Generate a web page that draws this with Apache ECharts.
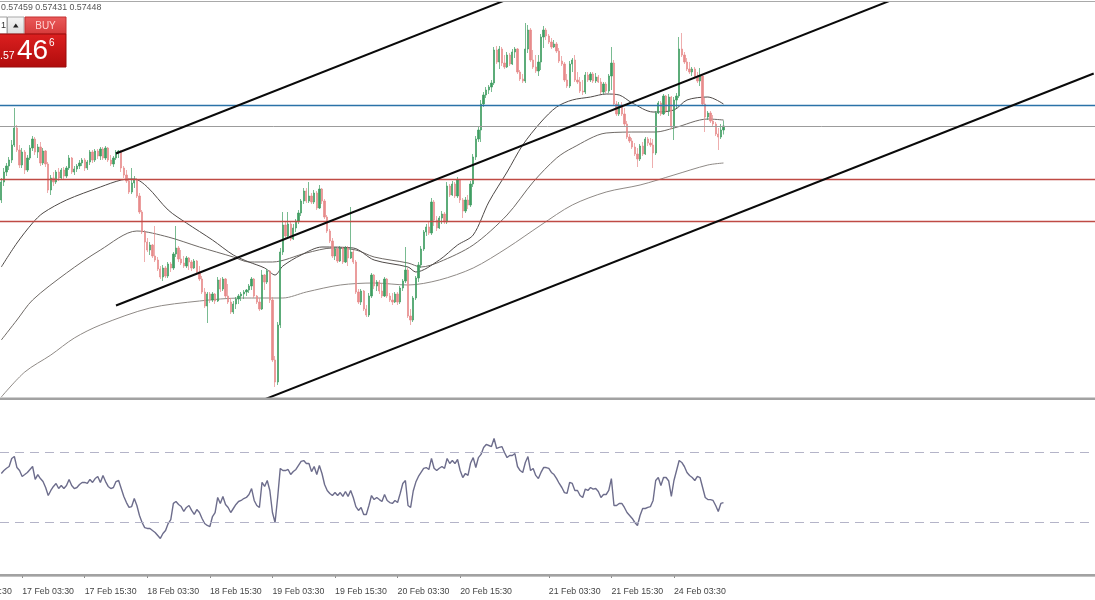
<!DOCTYPE html>
<html><head><meta charset="utf-8">
<script src="https://cdn.jsdelivr.net/npm/echarts@6/dist/echarts.min.js"></script>
<style>html,body{margin:0;padding:0;background:#fff}#c{width:1095px;height:600px}</style>
</head><body><div id="c"></div>
<script>
// ---- time axis (M30 bars); bar numbers count from the 16 Feb 15:30 bar ----
const firstBar = 16;          // first bar visible at the left edge
const lastBar = 435;          // last slot at the right edge
const tickIndex = [0, 24, 48, 72, 96, 120, 144, 168, 192, 226, 250, 274];
const tickText = ['16 Feb 15:30','17 Feb 03:30','17 Feb 15:30','18 Feb 03:30','18 Feb 15:30','19 Feb 03:30','19 Feb 15:30','20 Feb 03:30','20 Feb 15:30','21 Feb 03:30','21 Feb 15:30','24 Feb 03:30'];

// ---- price bars, starting at bar firstBar ----
const opens = [0.573,0.57336,0.57356,0.57368,0.5738,0.5741,0.57444,0.574,0.5737,0.57396,
0.5736,0.57384,0.57404,0.57422,0.57396,0.57406,0.57374,0.57398,0.57372,0.5732,
0.57344,0.57336,0.57356,0.57344,0.5736,0.57348,0.57364,0.57384,0.57356,0.57362,
0.57368,0.57374,0.5738,0.57364,0.57376,0.57396,0.5738,0.57398,0.57388,0.57402,
0.57384,0.57404,0.5738,0.57372,0.57384,0.57396,0.57398,0.57364,0.5735,0.57338,
0.57316,0.57334,0.5734,0.57308,0.57276,0.57236,0.57216,0.572,0.5721,0.57188,
0.5718,0.57162,0.57146,0.57164,0.57148,0.57172,0.57164,0.57192,0.57204,0.57182,
0.57174,0.57168,0.57184,0.57176,0.57164,0.57178,0.57156,0.57142,0.57116,0.57088,
0.57112,0.571,0.57112,0.57098,0.5714,0.57122,0.57142,0.57108,0.57096,0.57076,
0.57092,0.57102,0.57108,0.57112,0.57116,0.5712,0.57128,0.57142,0.57108,0.57096,
0.57082,0.5715,0.57136,0.57158,0.571,0.5698,0.56936,0.5705,0.57196,0.5725,
0.57228,0.57252,0.57222,0.57244,0.57258,0.57274,0.57298,0.57318,0.57298,0.57308,
0.57296,0.57314,0.57284,0.57322,0.57298,0.57266,0.57238,0.57218,0.57188,0.57202,
0.57178,0.57204,0.57176,0.57204,0.57184,0.57196,0.57176,0.57116,0.57096,0.57118,
0.57082,0.5707,0.57108,0.5715,0.57128,0.57136,0.57118,0.57108,0.57142,0.57108,
0.571,0.57096,0.57112,0.57096,0.57124,0.57138,0.5716,0.57068,0.5706,0.57104,
0.57144,0.5717,0.57202,0.57236,0.57246,0.57234,0.57296,0.5726,0.57244,0.57264,
0.57272,0.57256,0.57328,0.5731,0.57332,0.57308,0.5734,0.573,0.57278,0.573,
0.5729,0.57332,0.57386,0.57422,0.5744,0.57492,0.5751,0.5752,0.57526,0.57534,
0.576,0.57576,0.57602,0.57574,0.57566,0.5759,0.57572,0.57596,0.57602,0.57556,
0.57542,0.57538,0.57602,0.5764,0.5758,0.57566,0.57558,0.57576,0.57626,0.5764,
0.57628,0.57616,0.57606,0.57612,0.57598,0.57578,0.57572,0.5754,0.57528,0.57572,
0.5758,0.5754,0.57536,0.57518,0.57516,0.5755,0.5754,0.57552,0.57538,0.57546,
0.57536,0.57516,0.57532,0.57518,0.57548,0.57574,0.57492,0.57472,0.5749,0.57472,
0.57452,0.57426,0.57418,0.57406,0.57392,0.57382,0.57408,0.57392,0.57422,0.57414,
0.5741,0.57394,0.57474,0.57494,0.57472,0.57508,0.57478,0.57506,0.57446,0.575,
0.57508,0.57602,0.5759,0.57576,0.57562,0.57556,0.57562,0.57546,0.57538,0.57548,
0.57492,0.57466,0.57474,0.57458,0.57452,0.57432,0.57426,0.5744];
const closes = [0.57336,0.57356,0.57368,0.5738,0.5741,0.57444,0.574,0.5737,0.57396,0.5736,
0.57384,0.57404,0.57422,0.57396,0.57406,0.57374,0.57398,0.57372,0.5732,0.57344,
0.57336,0.57356,0.57344,0.5736,0.57348,0.57364,0.57384,0.57356,0.57362,0.57368,
0.57374,0.5738,0.57364,0.57376,0.57396,0.5738,0.57398,0.57388,0.57402,0.57384,
0.57404,0.5738,0.57372,0.57384,0.57396,0.57398,0.57364,0.5735,0.57338,0.57316,
0.57334,0.5734,0.57308,0.57276,0.57236,0.57216,0.572,0.5721,0.57188,0.5718,
0.57162,0.57146,0.57164,0.57148,0.57172,0.57164,0.57192,0.57204,0.57182,0.57174,
0.57168,0.57184,0.57176,0.57164,0.57178,0.57156,0.57142,0.57116,0.57088,0.57112,
0.571,0.57112,0.57098,0.5714,0.57122,0.57142,0.57108,0.57096,0.57076,0.57092,
0.57102,0.57108,0.57112,0.57116,0.5712,0.57128,0.57142,0.57108,0.57096,0.57082,
0.5715,0.57136,0.57158,0.571,0.5698,0.56936,0.5705,0.57196,0.5725,0.57228,
0.57252,0.57222,0.57244,0.57258,0.57274,0.57298,0.57318,0.57298,0.57308,0.57296,
0.57314,0.57284,0.57322,0.57298,0.57266,0.57238,0.57218,0.57188,0.57202,0.57178,
0.57204,0.57176,0.57204,0.57184,0.57196,0.57176,0.57116,0.57096,0.57118,0.57082,
0.5707,0.57108,0.5715,0.57128,0.57136,0.57118,0.57108,0.57142,0.57108,0.571,
0.57096,0.57112,0.57096,0.57124,0.57138,0.5716,0.57068,0.5706,0.57104,0.57144,
0.5717,0.57202,0.57236,0.57246,0.57234,0.57296,0.5726,0.57244,0.57264,0.57272,
0.57256,0.57328,0.5731,0.57332,0.57308,0.5734,0.573,0.57278,0.573,0.5729,
0.57332,0.57386,0.57422,0.5744,0.57492,0.5751,0.5752,0.57526,0.57534,0.576,
0.57576,0.57602,0.57574,0.57566,0.5759,0.57572,0.57596,0.57602,0.57556,0.57542,
0.57538,0.57602,0.5764,0.5758,0.57566,0.57558,0.57576,0.57626,0.5764,0.57628,
0.57616,0.57606,0.57612,0.57598,0.57578,0.57572,0.5754,0.57528,0.57572,0.5758,
0.5754,0.57536,0.57518,0.57516,0.5755,0.5754,0.57552,0.57538,0.57546,0.57536,
0.57516,0.57532,0.57518,0.57548,0.57574,0.57492,0.57472,0.5749,0.57472,0.57452,
0.57426,0.57418,0.57406,0.57392,0.57382,0.57408,0.57392,0.57422,0.57414,0.5741,
0.57394,0.57474,0.57494,0.57472,0.57508,0.57478,0.57506,0.57446,0.575,0.57508,
0.57602,0.5759,0.57576,0.57562,0.57556,0.57562,0.57546,0.57538,0.57548,0.57492,
0.57466,0.57474,0.57458,0.57452,0.57432,0.57426,0.5744,0.57448];
const highs = [0.57344,0.57364,0.57374,0.57386,0.5742,0.57484,0.5745,0.5741,0.57404,0.574,
0.5739,0.5741,0.57428,0.57426,0.57412,0.57416,0.57404,0.574,0.57376,0.5735,
0.57356,0.5736,0.57364,0.57364,0.57366,0.57368,0.5739,0.57386,0.57368,0.57372,
0.5738,0.57384,0.57384,0.5738,0.574,0.574,0.57402,0.57402,0.57406,0.57406,
0.57408,0.57406,0.5739,0.57388,0.574,0.574,0.574,0.57368,0.5736,0.57344,
0.57364,0.57348,0.57344,0.57314,0.5728,0.5724,0.57224,0.57216,0.57212,0.57248,
0.57186,0.57168,0.5717,0.57168,0.57176,0.57176,0.57196,0.57248,0.57208,0.572,
0.57188,0.57188,0.57186,0.5718,0.57182,0.5718,0.57168,0.57148,0.57124,0.57116,
0.57116,0.57116,0.57114,0.57146,0.57144,0.57146,0.57144,0.57132,0.57104,0.57098,
0.57106,0.57112,0.57116,0.5712,0.57122,0.57132,0.57146,0.57144,0.5711,0.57104,
0.5716,0.57152,0.57162,0.5716,0.57106,0.56988,0.57056,0.57204,0.57276,0.57256,
0.57276,0.57256,0.57252,0.57262,0.5728,0.57302,0.57324,0.57324,0.57336,0.57314,
0.5732,0.57318,0.5733,0.57324,0.57302,0.5727,0.57242,0.57224,0.57206,0.57206,
0.57208,0.57206,0.57208,0.57208,0.57286,0.572,0.5718,0.57122,0.57122,0.5712,
0.5709,0.57114,0.57154,0.57152,0.5714,0.5714,0.57134,0.57146,0.57144,0.57114,
0.57114,0.57116,0.57116,0.57128,0.57142,0.57206,0.57164,0.57082,0.57108,0.57148,
0.57176,0.57208,0.5724,0.57252,0.57256,0.57304,0.573,0.57268,0.57268,0.57278,
0.57276,0.57336,0.57332,0.57338,0.57336,0.57346,0.57342,0.57304,0.57306,0.5731,
0.57338,0.57392,0.57428,0.57446,0.575,0.57516,0.57526,0.5753,0.5754,0.57606,
0.57608,0.57608,0.57606,0.5759,0.57596,0.57594,0.57602,0.57606,0.57604,0.5756,
0.57552,0.57654,0.5765,0.57644,0.576,0.5759,0.5759,0.57632,0.57648,0.57644,
0.57632,0.57624,0.5762,0.57616,0.57604,0.57588,0.57576,0.57552,0.57578,0.57584,
0.5759,0.57556,0.57546,0.5754,0.57556,0.57556,0.57556,0.57556,0.57554,0.5755,
0.57544,0.57536,0.57536,0.57552,0.57606,0.5758,0.57498,0.57496,0.57496,0.57484,
0.57458,0.57432,0.57424,0.57414,0.57404,0.57412,0.57416,0.57426,0.57426,0.57424,
0.57422,0.57478,0.57498,0.57498,0.57512,0.5751,0.57512,0.57508,0.57506,0.57514,
0.57626,0.57634,0.57596,0.57584,0.57576,0.57566,0.57566,0.57556,0.57564,0.5755,
0.57504,0.57478,0.57478,0.5747,0.57456,0.57444,0.57452,0.57459];
const lows = [0.57294,0.57328,0.57348,0.5736,0.57374,0.57406,0.57396,0.57364,0.57364,0.57352,
0.57356,0.5738,0.57398,0.5739,0.57384,0.57368,0.5737,0.57366,0.57314,0.5731,
0.57328,0.57332,0.57338,0.5734,0.57342,0.57344,0.5736,0.57352,0.5735,0.57356,
0.57362,0.57368,0.57358,0.5736,0.5737,0.57374,0.57376,0.57382,0.5738,0.5738,
0.5738,0.57376,0.57368,0.57366,0.5738,0.57384,0.57356,0.57344,0.57334,0.57312,
0.57312,0.57324,0.57304,0.57272,0.57232,0.57176,0.57196,0.5719,0.57184,0.57176,
0.57158,0.57142,0.57138,0.57144,0.57144,0.57156,0.5716,0.57186,0.57176,0.5717,
0.57164,0.57164,0.5716,0.57158,0.57162,0.57152,0.57138,0.57112,0.57084,0.57054,
0.57094,0.57096,0.57092,0.57096,0.57116,0.57118,0.57104,0.57092,0.57072,0.57072,
0.57082,0.57092,0.57098,0.57102,0.57108,0.57114,0.5712,0.57104,0.57092,0.57078,
0.5708,0.5712,0.57132,0.57094,0.56976,0.56926,0.5693,0.57044,0.5719,0.57222,
0.57224,0.57218,0.5722,0.57236,0.57252,0.57268,0.57292,0.57294,0.57294,0.57292,
0.57292,0.5728,0.57282,0.57292,0.57262,0.57234,0.57214,0.57184,0.5718,0.57174,
0.57176,0.57172,0.57174,0.57168,0.57182,0.57172,0.57112,0.57092,0.5709,0.57078,
0.57066,0.57066,0.57104,0.57122,0.57118,0.57112,0.57104,0.57106,0.57104,0.57096,
0.5709,0.57094,0.5709,0.57092,0.57118,0.57134,0.57064,0.5705,0.57056,0.571,
0.57136,0.57164,0.57198,0.57228,0.5723,0.5723,0.57248,0.57238,0.57242,0.57252,
0.57252,0.57252,0.57306,0.57308,0.57304,0.57304,0.57294,0.57264,0.57274,0.57282,
0.57286,0.57326,0.5738,0.57416,0.57416,0.57486,0.57504,0.57512,0.57516,0.5753,
0.57572,0.57562,0.57568,0.57562,0.57564,0.57568,0.5757,0.57584,0.57552,0.57538,
0.57534,0.57534,0.57594,0.57576,0.57562,0.57554,0.57548,0.5756,0.57604,0.5762,
0.57612,0.57602,0.57604,0.57594,0.57574,0.57568,0.57536,0.57524,0.57524,0.57556,
0.57536,0.57532,0.57514,0.5751,0.57512,0.57536,0.57536,0.57534,0.57534,0.57534,
0.57512,0.57512,0.57514,0.57514,0.5752,0.57488,0.57468,0.57468,0.57468,0.57448,
0.57422,0.57414,0.57402,0.57388,0.57366,0.57378,0.57388,0.5739,0.57408,0.57406,
0.57364,0.5739,0.57472,0.57468,0.5747,0.57474,0.57468,0.57442,0.5742,0.57484,
0.57504,0.57586,0.57572,0.57558,0.57552,0.57548,0.57542,0.57534,0.57528,0.57488,
0.57436,0.5746,0.57454,0.57446,0.57428,0.574,0.57422,0.57431];

// ---- moving averages, [bar number, price] ----
const maFast = [[16,0.57166],[22,0.57214],[28,0.57254],[32,0.57274],[41,0.573],[54,0.57326],[62,0.5734],[67,0.57342],[72,0.57326],[80,0.5728],[87,0.57254],[97,0.5722],[105,0.5719],[111,0.57176],[117,0.57164],[121,0.5715],[124,0.57168],[131,0.5719],[139,0.57206],[151,0.57204],[159,0.5718],[172,0.57166],[175,0.57156],[184,0.5718],[191,0.5721],[197,0.5723],[203,0.57296],[210,0.57356],[216,0.5741],[223,0.57456],[229,0.57486],[235,0.575],[242,0.57506],[248,0.57512],[253,0.5751],[258,0.57494],[266,0.57476],[274,0.5748],[279,0.575],[287,0.57506],[293,0.57492]];
const maMid = [[16,0.5702],[22,0.5706],[28,0.571],[41,0.57154],[54,0.572],[68,0.57238],[80,0.57226],[92,0.57206],[105,0.57186],[111,0.57176],[120,0.57176],[133,0.57194],[143,0.57204],[152,0.572],[159,0.57186],[172,0.57174],[177,0.57166],[184,0.57176],[197,0.5721],[210,0.5727],[220,0.57336],[229,0.57384],[235,0.57404],[248,0.57434],[261,0.57436],[267,0.57436],[274,0.57444],[287,0.57462],[293,0.5746]];
const maSlow = [[16,0.56906],[25,0.56956],[35,0.5699],[44,0.57024],[54,0.5705],[73,0.57084],[92,0.57098],[108,0.57104],[124,0.57104],[133,0.57116],[146,0.5713],[159,0.57134],[172,0.5713],[184,0.5714],[197,0.57164],[210,0.57204],[223,0.5725],[235,0.5729],[248,0.57316],[261,0.5733],[274,0.5735],[287,0.5737],[293,0.57374]];

// ---- drawn objects, [bar number, price] ----
const trendUpper = [[60,0.57393],[210,0.57701]];
const trendMiddle = [[60,0.57089],[360,0.57705]];
const trendLower = [[110,0.56887],[435,0.57553]];
const levelBlue = 0.5749;
const levelBid = 0.57448;
const levelRed = [0.57342, 0.57258];
const priceMin = 0.56904, priceMax = 0.57694;

// ---- RSI, starting at bar firstBar ----
const rsi = [58,59.7,61,62,66.6,67.7,61.4,59.7,56.3,57.4,
58.6,60.3,62,54.6,57.4,55.1,53.4,50,45.4,48.3,
50.6,52.3,49.4,51.1,49.4,51.1,54.6,51.1,49.4,50,
51.7,52.9,52.9,52.3,54.6,52.9,55.1,56.3,52.9,56.9,
53.4,50.6,49.4,50,53.4,54,49.4,44.9,41.4,38.6,
39.1,43.7,39.7,34,30,27.1,26.6,26.6,25.4,24.3,
22.6,20.9,23.7,25.4,29.4,31.7,40.9,42,40.3,39.1,
36.3,38.6,39.7,36.9,34.6,37.4,35.7,32.3,29.4,28.3,
27.7,33.4,35.7,44.3,40.9,44.9,40.3,38.6,35.7,38,
40.3,42,42.6,43.7,44.3,46,49.4,42.6,39.7,38.6,
52.9,50.6,54,48.3,35.7,30,44.3,60.9,59.7,59.7,
60.3,57.4,59.1,60.3,62.6,64.9,65.4,63.7,63.7,59.1,
62,57.4,62.6,58,51.7,48.3,46.6,45.4,47.1,45.4,
47.1,44.9,47.7,44.9,48.3,44.3,39.1,36.9,38.6,34.6,
34.6,39.7,45.4,43.1,44.3,43.1,42,46,42.6,41.4,
40.9,42.6,41.4,46.6,52.3,54,39.7,38.6,48,53.1,
56.3,58.6,60.9,61.4,60.3,66.6,61,59.7,61,62,
60.9,66.6,63.7,65.4,63.7,66,59.7,55.7,58,56.9,
64,67.1,61.4,67.1,68.9,72.9,74.6,74,73.4,78,
72.3,72.9,73.4,70,67.1,68.3,68.3,69.4,62,59.7,
58.6,64.3,67.7,59.7,60.9,56.9,55.1,58.6,61.4,61.4,
60.9,58.6,57.4,55.1,52.3,50,47.1,46.6,52.9,52.3,
48.3,48.3,45.4,44.3,49.1,48.3,50,49.1,49.4,47.7,
44.3,46,46,48.3,55.1,39.7,39.7,40.9,40.9,38.6,
35.7,34,32.3,30,28.3,34,38,38,38.6,39.1,
42.6,54,55.7,51.1,55.7,55.7,53.7,44.9,54,59.7,
65.4,64.3,62,58.6,56.9,55.7,54,56.3,55.7,50,
44.3,43.1,43.1,42.6,39.7,36.3,40.9,41.4];
const rsiLevels = [70, 30];

// ---- build (category slot = bar number - firstBar) ----
const slotCount = lastBar - firstBar + 1;
const cats = Array.from({length: slotCount}, (_, j) => 'bar' + (j + firstBar));
const labelAt = {};
tickIndex.forEach((k, n) => { labelAt[k - firstBar] = tickText[n]; });
const toSlot = (pts) => pts.map(p => [p[0] - firstBar, p[1]]);
const candleData = closes.map((c, k) => [k, opens[k], c, lows[k], highs[k]]);
const rsiData = rsi.map((v, k) => [k, v]);
const showTick = (idx) => labelAt[idx] !== undefined;

const UP = '#3f9d62', DOWN = '#e78b8b';
const FONT = 'Liberation Sans';

const chart = echarts.init(document.getElementById('c'), null, {renderer: 'canvas'});
const option = {
  animation: false,
  backgroundColor: '#ffffff',
  grid: [
    {left: 0, right: 0, top: 3, height: 395},
    {left: 0, right: 0, top: 400, height: 175}
  ],
  xAxis: [
    {type: 'category', gridIndex: 0, data: cats, boundaryGap: true, show: false},
    {type: 'category', gridIndex: 1, data: cats, boundaryGap: true, position: 'bottom', offset: 8,
     axisLine: {show: true, lineStyle: {color: '#8a8a8a', width: 1.3}},
     axisTick: {show: true, alignWithLabel: true, length: 3, interval: showTick, lineStyle: {color: '#8a8a8a'}},
     axisLabel: {show: true, interval: showTick, formatter: (v, idx) => labelAt[idx] || '',
                 align: 'left', margin: 4, fontSize: 8.8, color: '#454545', fontFamily: FONT},
     splitLine: {show: false}}
  ],
  yAxis: [
    {type: 'value', gridIndex: 0, min: priceMin, max: priceMax, show: false, splitLine: {show: false}},
    {type: 'value', gridIndex: 1, min: 0, max: 100, show: false, splitLine: {show: false}}
  ],
  series: [
    {type: 'line', name: 'MA slow', xAxisIndex: 0, yAxisIndex: 0, data: toSlot(maSlow), showSymbol: false, smooth: 0.3,
     lineStyle: {color: '#8f8a86', width: 1}, z: 1,
     markLine: {silent: true, symbol: 'none', precision: 6, label: {show: false}, animation: false,
       data: [
         {yAxis: levelBid, lineStyle: {color: '#9c9c9c', width: 1, type: 'solid'}},
         {yAxis: levelBlue, lineStyle: {color: '#2a72a8', width: 1.4, type: 'solid'}},
         {yAxis: levelRed[0], lineStyle: {color: '#bf4a44', width: 1.4, type: 'solid'}},
         {yAxis: levelRed[1], lineStyle: {color: '#bf4a44', width: 1.4, type: 'solid'}}
       ]}},
    {type: 'line', name: 'MA mid', xAxisIndex: 0, yAxisIndex: 0, data: toSlot(maMid), showSymbol: false, smooth: 0.3,
     lineStyle: {color: '#6f6a66', width: 1}, z: 1},
    {type: 'line', name: 'MA fast', xAxisIndex: 0, yAxisIndex: 0, data: toSlot(maFast), showSymbol: false, smooth: 0.3,
     lineStyle: {color: '#4f4a48', width: 1}, z: 1},
    {type: 'candlestick', xAxisIndex: 0, yAxisIndex: 0, data: candleData,
     encode: {x: 0, y: [1, 2, 3, 4]}, barWidth: 1.8,
     itemStyle: {color: UP, color0: DOWN, borderColor: UP, borderColor0: DOWN, borderWidth: 0.7},
     z: 3},
    {type: 'line', xAxisIndex: 0, yAxisIndex: 0, data: toSlot(trendUpper), showSymbol: false, lineStyle: {color: '#0a0a0a', width: 2}, z: 5},
    {type: 'line', xAxisIndex: 0, yAxisIndex: 0, data: toSlot(trendMiddle), showSymbol: false, lineStyle: {color: '#0a0a0a', width: 2}, z: 5},
    {type: 'line', xAxisIndex: 0, yAxisIndex: 0, data: toSlot(trendLower), showSymbol: false, lineStyle: {color: '#0a0a0a', width: 2}, z: 5},
    {type: 'line', name: 'RSI', xAxisIndex: 1, yAxisIndex: 1, data: rsiData, showSymbol: false,
     lineStyle: {color: '#6d6d8c', width: 1.4},
     markLine: {silent: true, symbol: 'none', precision: 2, label: {show: false}, animation: false,
       lineStyle: {color: '#b4b4c8', width: 1.2, type: [9, 6]},
       data: rsiLevels.map(v => ({yAxis: v}))}}
  ],
  graphic: {elements: [
    {type: 'line', z: 100, shape: {x1: 0, y1: 1.5, x2: 1095, y2: 1.5}, style: {stroke: '#a9a9a9', lineWidth: 1.2}},
    {type: 'rect', z: 100, shape: {x: 0, y: 397.5, width: 1095, height: 2.5}, style: {fill: '#a2a2a2'}},
    {type: 'rect', z: 100, shape: {x: 0, y: 574, width: 1095, height: 2.5}, style: {fill: '#a2a2a2'}},
    // label of the tick just left of the visible area (only its tail shows)
    {type: 'text', z: 100, x: -40, y: 591.5, style: {text: tickText[0], font: '8.8px "Liberation Sans"', fill: '#454545', textAlign: 'left', textVerticalAlign: 'middle', verticalAlign: 'middle'}},
    {type: 'text', z: 100, x: 1, y: 8, style: {text: '0.57459 0.57431 0.57448', font: '8.8px "Liberation Sans"', fill: '#555555', textAlign: 'left', textVerticalAlign: 'middle', verticalAlign: 'middle'}},
    // one-click trading widget
    {type: 'rect', z: 100, shape: {x: -1, y: 17, width: 8, height: 17}, style: {fill: '#ffffff', stroke: '#a0a0a0', lineWidth: 1}},
    {type: 'text', z: 101, x: 1, y: 25.5, style: {text: '1', font: '9px "Liberation Sans"', fill: '#333', textAlign: 'left', textVerticalAlign: 'middle', verticalAlign: 'middle'}},
    {type: 'rect', z: 100, shape: {x: 7.5, y: 17, width: 16.5, height: 17},
     style: {fill: new echarts.graphic.LinearGradient(0, 0, 0, 1, [{offset: 0, color: '#f6f6f6'}, {offset: 1, color: '#dcdcdc'}]), stroke: '#a8a8a8', lineWidth: 1}},
    {type: 'polygon', z: 101, shape: {points: [[13, 27.5], [18.5, 27.5], [15.75, 23.5]]}, style: {fill: '#222'}},
    {type: 'rect', z: 100, shape: {x: 25, y: 17, width: 41, height: 17},
     style: {fill: new echarts.graphic.LinearGradient(0, 0, 0, 1, [{offset: 0, color: '#ea5a5a'}, {offset: 1, color: '#d63a3a'}]), stroke: '#c43030', lineWidth: 1}},
    {type: 'text', z: 101, x: 45.5, y: 26, style: {text: 'BUY', font: '10px "Liberation Sans"', fill: '#ffd4d4', textAlign: 'center', textVerticalAlign: 'middle', verticalAlign: 'middle'}},
    {type: 'rect', z: 100, shape: {x: -1, y: 34, width: 67, height: 33},
     style: {fill: new echarts.graphic.LinearGradient(0, 0, 0, 1, [{offset: 0, color: '#dc2020'}, {offset: 1, color: '#b00c0c'}]), stroke: '#9a0a0a', lineWidth: 1}},
    {type: 'text', z: 101, x: 0, y: 56, style: {text: '.57', font: '10.5px "Liberation Sans"', fill: '#ffffff', textAlign: 'left', textVerticalAlign: 'middle', verticalAlign: 'middle'}},
    {type: 'text', z: 101, x: 17, y: 51, style: {text: '46', font: '28px "Liberation Sans"', fill: '#ffffff', textAlign: 'left', textVerticalAlign: 'middle', verticalAlign: 'middle'}},
    {type: 'text', z: 101, x: 49, y: 43, style: {text: '6', font: '10px "Liberation Sans"', fill: '#ffffff', textAlign: 'left', textVerticalAlign: 'middle', verticalAlign: 'middle'}}
  ]}
};
chart.setOption(option);
</script>
</body></html>
